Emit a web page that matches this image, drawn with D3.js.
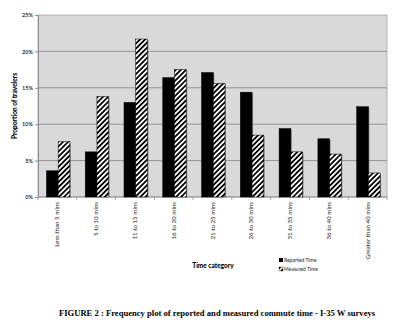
<!DOCTYPE html>
<html>
<head>
<meta charset="utf-8">
<script src="https://cdn.jsdelivr.net/npm/d3@7"></script>
<style>
  html, body { margin: 0; padding: 0; background: #fff; }
  svg { display: block; }
</style>
</head>
<body>
<svg id="chart" width="400" height="330"></svg>
<script>
// Commute time categories and share of travellers (%) per category
const categories = [
  "Less than 5 mins", "5 to 10 mins", "11 to 15 mins", "16 to 20 mins",
  "21 to 25 mins", "26 to 30 mins", "31 to 35 mins", "36 to 40 mins",
  "Greater than 40 mins"
];
const reportedTime = [3.6, 6.2, 13.0, 16.4, 17.1, 14.4, 9.4, 8.0, 12.4];
const measuredTime = [7.6, 13.8, 21.7, 17.5, 15.6, 8.5, 6.2, 5.9, 3.3];
const seriesNames = ["Reported Time", "Measured Time"];
const yTicks = [0, 5, 10, 15, 20, 25];

const svg = d3.select("#chart");
const plot = { left: 38, right: 387, top: 15, bottom: 197 };

// diagonal hatch fill for the measured series
const defs = svg.append("defs");
const pat = defs.append("pattern")
  .attr("id", "hatch")
  .attr("patternUnits", "userSpaceOnUse")
  .attr("width", 3.6).attr("height", 3.6)
  .attr("patternTransform", "rotate(45)");
pat.append("rect").attr("width", 3.6).attr("height", 3.6).attr("fill", "#fff");
pat.append("rect").attr("width", 1.8).attr("height", 3.6).attr("fill", "#000");

const x = d3.scaleBand().domain(categories).range([plot.left, plot.right]).padding(0);
const x1 = d3.scaleBand().domain(seriesNames).range([0, x.bandwidth()])
  .paddingInner(0).paddingOuter(0.655).align(0.55);
const y = d3.scaleLinear().domain([0, 25]).range([plot.bottom, plot.top]);

// plot background
svg.append("rect")
  .attr("x", plot.left).attr("y", plot.top)
  .attr("width", plot.right - plot.left).attr("height", plot.bottom - plot.top)
  .attr("fill", "#d9d9d9").attr("stroke", "#a6a6a6").attr("stroke-width", 0.8);

// horizontal gridlines
svg.append("g").selectAll("line")
  .data(yTicks.filter(t => t > 0 && t < 25))
  .join("line")
  .attr("x1", plot.left).attr("x2", plot.right)
  .attr("y1", d => y(d)).attr("y2", d => y(d))
  .attr("stroke", "#8c8c8c").attr("stroke-width", 0.9);

// y axis
const yAxis = svg.append("g")
  .attr("transform", `translate(${plot.left},0)`)
  .call(d3.axisLeft(y).tickValues(yTicks).tickFormat(d => d + "%").tickSize(3).tickPadding(2));
yAxis.select(".domain").attr("stroke", "#8c8c8c");
yAxis.selectAll(".tick line").attr("stroke", "#8c8c8c");
yAxis.selectAll("text")
  .attr("font-family", "Lato, sans-serif").attr("font-size", 5.5).attr("font-weight", "bold")
  .attr("fill", "#333");

// x axis with ticks at category boundaries
const xAxis = svg.append("g").attr("transform", `translate(0,${plot.bottom})`);
xAxis.append("line")
  .attr("x1", plot.left).attr("x2", plot.right)
  .attr("stroke", "#8c8c8c").attr("stroke-width", 0.9);
xAxis.selectAll("line.tk")
  .data(d3.range(categories.length + 1))
  .join("line").attr("class", "tk")
  .attr("x1", i => plot.left + i * x.bandwidth())
  .attr("x2", i => plot.left + i * x.bandwidth())
  .attr("y1", 0).attr("y2", 3)
  .attr("stroke", "#8c8c8c").attr("stroke-width", 0.8);
xAxis.selectAll("text")
  .data(categories)
  .join("text")
  .attr("transform", d => `translate(${x(d) + x.bandwidth() / 2 + 2},5) rotate(-90)`)
  .attr("text-anchor", "end")
  .attr("font-family", "Lato, sans-serif").attr("font-size", 6.2)
  .attr("fill", "#222")
  .text(d => d);

// bars
const series = [
  { name: seriesNames[0], values: reportedTime, fill: "#000" },
  { name: seriesNames[1], values: measuredTime, fill: "url(#hatch)" }
];
const groups = svg.append("g").selectAll("g")
  .data(series).join("g");
// soft shadow along the right side of each bar
groups.selectAll("rect.sh")
  .data(s => s.values.map((v, i) => ({ s, v, c: categories[i] })))
  .join("rect").attr("class", "sh")
  .attr("x", d => x(d.c) + x1(d.s.name) + 1)
  .attr("y", d => y(d.v) + 1)
  .attr("width", x1.bandwidth())
  .attr("height", d => y(0) - y(d.v) - 1)
  .attr("fill", "#555").attr("opacity", 0.6);
groups.selectAll("rect.bar")
  .data(s => s.values.map((v, i) => ({ s, v, c: categories[i] })))
  .join("rect").attr("class", "bar")
  .attr("x", d => x(d.c) + x1(d.s.name))
  .attr("y", d => y(d.v))
  .attr("width", x1.bandwidth())
  .attr("height", d => y(0) - y(d.v))
  .attr("fill", d => d.s.fill)
  .attr("stroke", "#000").attr("stroke-width", 0.5);

// axis titles
svg.append("text")
  .attr("transform", `translate(17,${(plot.top + plot.bottom) / 2}) rotate(-90)`)
  .attr("text-anchor", "middle")
  .attr("font-family", "Lato, sans-serif").attr("font-size", 6.5).attr("font-weight", "900")
  .text("Proportion of travelers");
svg.append("text")
  .attr("x", 213).attr("y", 268)
  .attr("text-anchor", "middle")
  .attr("font-family", "Lato, sans-serif").attr("font-size", 6.5).attr("font-weight", "900")
  .text("Time category");

// legend
const legend = svg.append("g").attr("transform", "translate(279,258)");
legend.selectAll("g")
  .data(series)
  .join("g")
  .attr("transform", (d, i) => `translate(0,${i * 9})`)
  .each(function (d) {
    const g = d3.select(this);
    g.append("rect").attr("x", 0).attr("y", 0).attr("width", 4).attr("height", 4)
      .attr("fill", d.fill).attr("stroke", "#000").attr("stroke-width", d.fill === "#000" ? 0 : 0.3);
    g.append("text").attr("x", 5).attr("y", 3.8)
      .attr("font-family", "Lato, sans-serif").attr("font-size", 5)
      .attr("fill", "#222")
      .text(d.name);
  });

// figure caption
svg.append("text")
  .attr("x", 217).attr("y", 315.5)
  .attr("text-anchor", "middle")
  .attr("font-family", "'Liberation Serif', serif").attr("font-size", 8.6).attr("font-weight", "bold")
  .text("FIGURE 2 : Frequency plot of reported and measured commute time - I-35 W surveys");
</script>
</body>
</html>
